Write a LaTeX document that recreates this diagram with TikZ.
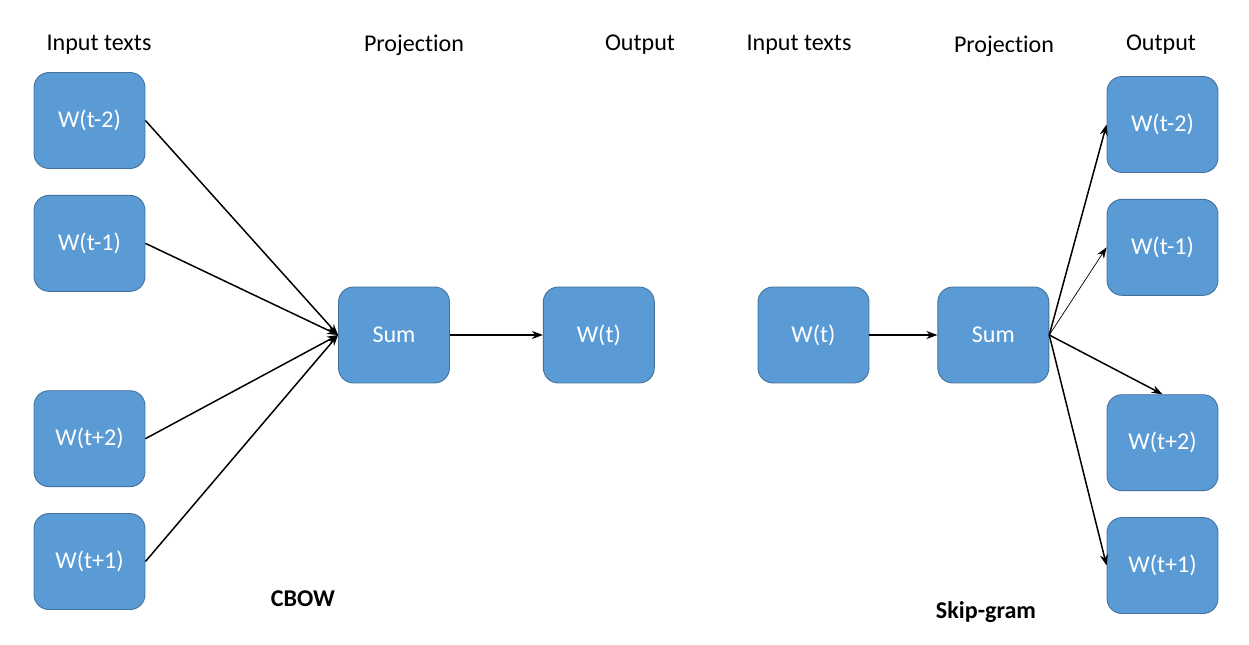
\documentclass[tikz,border=0pt]{standalone}
\usepackage{fontspec}
\setmainfont{Carlito}[Ligatures={NoCommon,NoContextual,NoRequired}]
\usetikzlibrary{positioning,arrows.meta}
\definecolor{boxblue}{HTML}{5B9BD5}
\definecolor{boxedge}{HTML}{41719C}

\begin{document}
\begin{tikzpicture}[x=0.02cm,y=-0.02cm,
    word/.style={draw=boxedge, line width=0.5pt, fill=boxblue, text=white,
        rounded corners=0.3cm, minimum width=2.22cm, minimum height=1.92cm,
        font=\fontsize{13.7}{16}\selectfont},
    head/.style={font=\fontsize{13.7}{16}\selectfont},
    arr/.style={-{Stealth[length=0.22cm,width=0.16cm]}, line width=0.85pt}]
\useasboundingbox (0,0) rectangle (1249,645);

% CBOW
\node [word] (in1) at (89.5,120.5) {W(t-2)};
\node [word, below=0.52cm of in1] (in2) {W(t-1)};
\node [word, below=1.97cm of in2] (in3) {W(t+2)};
\node [word, below=0.52cm of in3] (in4) {W(t+1)};
\node [word] (sum1) at (394,335) {Sum};
\node [word, right=1.86cm of sum1] (out1) {W(t)};

\node [head] at (99,45) {Input texts};
\node [head] at (414,45) {Projection};
\node [head] at (640,45) {Output};
\node [head, font=\fontsize{13.7}{16}\selectfont\bfseries] (cbow) at (303,599) {CBOW};

\draw [arr] (in1.east) -- (sum1.west);
\draw [arr] (in2.east) -- (sum1.west);
\draw [arr] (in3.east) -- (sum1.west);
\draw [arr] (in4.east) -- (sum1.west);
\draw [arr] (sum1) -- (out1);

% Skip-gram
\node [word] (in0) at (813.5,335) {W(t)};
\node [word, right=1.36cm of in0] (sum2) {Sum};
\node [word] (o1) at (1162.5,124.5) {W(t-2)};
\node [word, below=0.52cm of o1] (o2) {W(t-1)};
\node [word, below=1.97cm of o2] (o3) {W(t+2)};
\node [word, below=0.52cm of o3] (o4) {W(t+1)};

\node [head] at (799,45) {Input texts};
\node [head] at (1004,46) {Projection};
\node [head] at (1161,45) {Output};
\node [head, font=\fontsize{13.7}{16}\selectfont\bfseries] (skip) at (986,612) {Skip-gram};

\draw [arr] (in0) -- (sum2);
\draw [arr] (sum2.east) -- (o1.west);
\draw [arr, line width=0.4pt] (sum2.east) -- (o2.west);
\draw [arr] (sum2.east) -- (o3.north);
\draw [arr] (sum2.east) -- (o4.west);
\end{tikzpicture}
\end{document}
